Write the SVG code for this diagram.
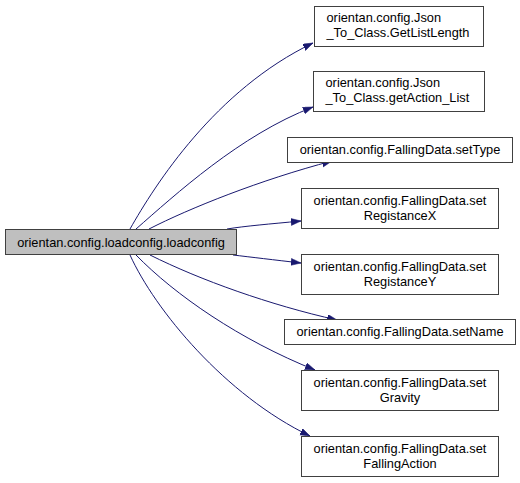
<svg xmlns="http://www.w3.org/2000/svg" width="520" height="483" viewBox="0 0 520 483">
<style>
.n rect{fill:#ffffff;stroke:#404040;stroke-width:1}
.n.main rect{fill:#bfbfbf}
text{font-family:"Liberation Sans",Arial,sans-serif;font-size:12.8px;fill:#000}
.c{text-anchor:middle}
.e path{fill:none;stroke:#191970;stroke-width:1}
</style>
<defs>
<marker id="ah" markerUnits="userSpaceOnUse" markerWidth="11" markerHeight="8" refX="10" refY="3.5" orient="auto">
<path d="M0,0 L10,3.5 L0,7 z" fill="#191970" stroke="#191970" stroke-width="0.5"/>
</marker>
</defs>
<rect width="520" height="483" fill="#ffffff"/>
<g id="edges" class="e">
<path marker-end="url(#ah)" d="M130,229 C155,185 215,90 313,43"/>
<path marker-end="url(#ah)" d="M136,229 C175,195 240,135 313,107"/>
<path marker-end="url(#ah)" d="M149,229 C190,208 260,180 332,161"/>
<path marker-end="url(#ah)" d="M227,229 C245,226 270,224 301,221"/>
<path marker-end="url(#ah)" d="M233,255 C250,257 275,260 301,263"/>
<path marker-end="url(#ah)" d="M150,255 C200,280 270,305 337,320"/>
<path marker-end="url(#ah)" d="M136,255 C175,295 240,340 315,370"/>
<path marker-end="url(#ah)" d="M130,255 C155,310 225,395 310,436"/>
</g>
<g id="node_main" class="n main">
<rect x="5.5" y="229.5" width="231" height="25"/>
<text class="c" x="121" y="246.5">orientan.config.loadconfig.loadconfig</text>
</g>
<g id="node_getlistlength" class="n">
<rect x="314.5" y="6.5" width="169" height="40"/>
<text x="326.5" y="22">orientan.config.Json</text>
<text x="326.5" y="37">_To_Class.GetListLength</text>
</g>
<g id="node_getactionlist" class="n">
<rect x="313.5" y="71.5" width="171" height="40"/>
<text x="325.5" y="87">orientan.config.Json</text>
<text x="325.5" y="102">_To_Class.getAction_List</text>
</g>
<g id="node_settype" class="n">
<rect x="287.5" y="137.5" width="225" height="25"/>
<text class="c" x="400" y="153.5">orientan.config.FallingData.setType</text>
</g>
<g id="node_setregx" class="n">
<rect x="301.5" y="188.5" width="197" height="40"/>
<text class="c" x="400" y="204.5">orientan.config.FallingData.set</text>
<text class="c" x="400" y="219.5">RegistanceX</text>
</g>
<g id="node_setregy" class="n">
<rect x="301.5" y="254.5" width="197" height="40"/>
<text class="c" x="400" y="270.5">orientan.config.FallingData.set</text>
<text class="c" x="400" y="285.5">RegistanceY</text>
</g>
<g id="node_setname" class="n">
<rect x="284.5" y="319.5" width="231" height="25"/>
<text class="c" x="400" y="335.5">orientan.config.FallingData.setName</text>
</g>
<g id="node_setgravity" class="n">
<rect x="301.5" y="370.5" width="197" height="40"/>
<text class="c" x="400" y="386.5">orientan.config.FallingData.set</text>
<text class="c" x="400" y="401.5">Gravity</text>
</g>
<g id="node_setfallingaction" class="n">
<rect x="301.5" y="436.5" width="197" height="40"/>
<text class="c" x="400" y="452.5">orientan.config.FallingData.set</text>
<text class="c" x="400" y="467.5">FallingAction</text>
</g>
</svg>
